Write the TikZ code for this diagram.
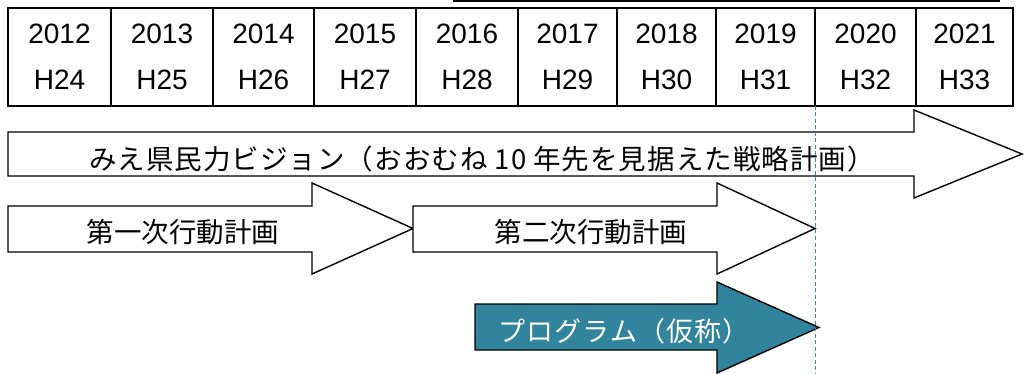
\documentclass[tikz,border=0pt]{standalone}
\usepackage{fontspec}
\setmainfont{Liberation Sans}
\newfontfamily\jp{Noto Sans CJK JP}
\newfontfamily\jpvis[LetterSpace=3.7]{Noto Sans CJK JP}
\newfontfamily\jpprog[LetterSpace=4]{Noto Sans CJK JP}
\definecolor{progteal}{HTML}{31849B}
\definecolor{guideblue}{HTML}{4A7EBB}
\tikzset{
  cellline/.style={line width=1.5pt},
  yeartext/.style={font=\fontsize{28}{32}\selectfont, inner sep=0pt},
  bigarrow/.style={draw=black, line width=1.4pt, fill=white, line join=miter},
  progarrow/.style={draw=black, line width=1.4pt, fill=progteal, line join=miter},
  visiontext/.style={font=\jpvis\fontsize{27.5}{32}\selectfont, inner sep=0pt},
  acttext/.style={font=\jp\fontsize{27.5}{32}\selectfont, inner sep=0pt},
  progtext/.style={font=\jpprog\fontsize{27}{32}\selectfont, text=white, inner sep=0pt},
  guide/.style={draw=guideblue, line width=1.5pt, dash pattern=on 4pt off 2.5pt},
}
\begin{document}
\begin{tikzpicture}[x=1pt,y=-1pt]
\useasboundingbox (0,0) rectangle (1033,374);
% partial line at top
\draw[line width=2pt] (453,1.5) -- (1000,1.5);
% table
\draw[cellline] (8,8) rectangle (1013,106);
\foreach \xx in {111,213,314,416,518,617,716,815,916}
  \draw[cellline] (\xx,8) -- (\xx,106);
\foreach \cx/\yr/\hy [count=\i] in {59.5/2012/H24,162/2013/H25,263.5/2014/H26,365/2015/H27,467/2016/H28,567.5/2017/H29,666.5/2018/H30,765.5/2019/H31,865.5/2020/H32,964.5/2021/H33}{
  \node[yeartext] (y\i) at (\cx,34) {\yr};
  \node[yeartext] (h\i) at (\cx,80) {\hy};
}
% vision arrow
\draw[bigarrow] (8,132) -- (914,132) -- (914,110) -- (1022,154) -- (914,198) -- (914,176) -- (8,176) -- cycle;
\node[visiontext] (vision) at (482,159.5) {みえ県民力ビジョン（おおむね 10 年先を見据えた戦略計画）};
% action plans
\draw[bigarrow] (8,206) -- (312,206) -- (312,183) -- (413,228.5) -- (312,274) -- (312,252) -- (8,252) -- cycle;
\node[acttext] (act1) at (183,232.5) {第一次行動計画};
\draw[bigarrow] (413,206) -- (717,206) -- (717,183) -- (815,228.5) -- (717,274) -- (717,252) -- (413,252) -- cycle;
\node[acttext] (act2) at (591,232.5) {第二次行動計画};
% program arrow
\draw[progarrow] (475,304) -- (717,304) -- (717,282) -- (819,327.5) -- (717,373) -- (717,350) -- (475,350) -- cycle;
\node[progtext] (prog) at (624,331) {プログラム（仮称）};
% guide line
\coordinate (gtop) at (815.5,106);
\coordinate (gbot) at (815.5,374);
\draw[guide] (gtop) -- (gbot);
\end{tikzpicture}
\end{document}
